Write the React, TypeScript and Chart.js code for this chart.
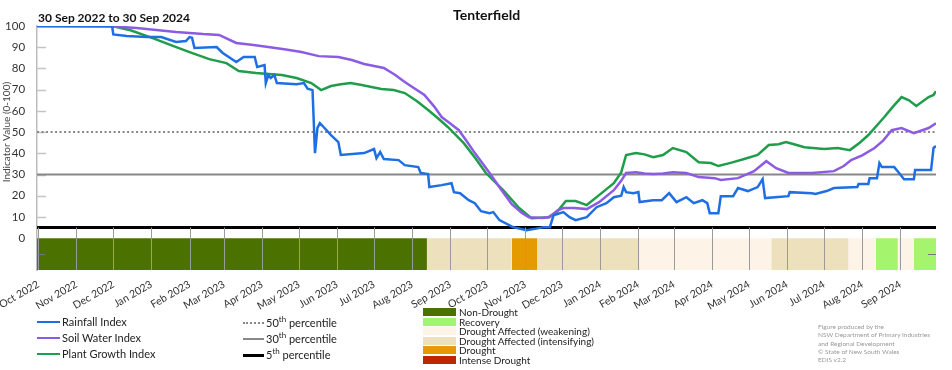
import React, { useEffect, useRef } from "react";
import { Chart, registerables } from "chart.js";

Chart.register(...registerables);

// ---------- DATA ----------
// x values are day offsets from 1 Oct 2022
const monthDays = [0, 31, 61, 92, 123, 151, 182, 212, 243, 273, 304, 335, 365, 396, 426, 457, 488, 517, 548, 578, 609, 639, 670, 701];
const monthLabels = [
  "Oct 2022", "Nov 2022", "Dec 2022", "Jan 2023", "Feb 2023", "Mar 2023", "Apr 2023", "May 2023",
  "Jun 2023", "Jul 2023", "Aug 2023", "Sep 2023", "Oct 2023", "Nov 2023", "Dec 2023", "Jan 2024",
  "Feb 2024", "Mar 2024", "Apr 2024", "May 2024", "Jun 2024", "Jul 2024", "Aug 2024", "Sep 2024",
];

const rainfallIndex: [number, number][] = [
  [-1, 100], [60, 100], [61, 96], [72, 95.3], [88, 94.8], [100, 94.8], [112, 92.5], [120, 92.9], [123, 94.8],
  [125, 94.5], [127, 89.6], [145, 90.1], [150, 87.3], [161, 83], [167, 85.4], [176, 85.4], [178, 80.7],
  [184, 81.6], [185, 73.1], [187, 76.9], [189, 75.5], [192, 76.9], [194, 73.1], [210, 72.6], [216, 73.1],
  [219, 70.5], [223, 69.8], [225, 40.1], [227, 52], [229, 54.2], [232, 52.4], [238, 48.6], [244, 45.3],
  [246, 39.2], [265, 40.1], [273, 42.0], [275, 37.7], [278, 40.6], [281, 37.3], [293, 36.8], [298, 34.4],
  [309, 33.5], [311, 30.7], [317, 30.2], [318, 24.1], [328, 25.0], [336, 25.9], [338, 21.7], [343, 21.2],
  [350, 17.9], [355, 16.5], [360, 12.7], [367, 11.8], [370, 12.3], [375, 8.5], [386, 5.2], [397, 3.8],
  [405, 4.5], [411, 5.2], [416, 5.2], [419, 10.8], [427, 12.3], [432, 9.9], [437, 8.5], [446, 9.9],
  [454, 14.6], [462, 16.5], [468, 19.3], [474, 20], [476, 24.1], [478, 21.7], [484, 21.2], [488, 21.7],
  [489, 17.0], [500, 17.9], [507, 17.9], [513, 21.2], [519, 17.0], [527, 19.3], [533, 16.5], [540, 17.9],
  [544, 16.5], [546, 11.8], [553, 11.8], [555, 19.8], [565, 19.8], [569, 23.6], [577, 22.2], [585, 24.1],
  [589, 27.8], [591, 18.9], [610, 19.8], [611, 21.7], [629, 21.2], [632, 20.8], [641, 22.2], [647, 23.6],
  [666, 24.1], [667, 25.5], [675, 25.5], [676, 28.3], [682, 28.3], [684, 35.4], [686, 33.5], [696, 33.5],
  [700, 30.7], [704, 27.8], [712, 27.8], [713, 32.1], [726, 32.1], [728, 42.5], [730, 43.4],
];

const soilWaterIndex: [number, number][] = [
  [-1, 100], [60, 99.8], [80, 99.1], [112, 97.2], [134, 96.2], [147, 95.8], [161, 92.0], [175, 91.0],
  [184, 90.3], [200, 89], [214, 87.7], [228, 85.8], [244, 85.4], [255, 84], [265, 82.1], [281, 80.2],
  [290, 77], [298, 73.6], [314, 67.5], [322, 62], [328, 57.1], [335, 54], [342, 50.9], [348, 46],
  [355, 40.1], [367, 30.7], [375, 24], [385, 16], [393, 12], [399, 9.9], [410, 9.5], [416, 10], [422, 13],
  [427, 14.2], [436, 14.2], [446, 13.7], [456, 17], [468, 22.6], [474, 27], [478, 30.7], [486, 31.1],
  [493, 30.5], [500, 30.2], [508, 30.5], [516, 31.1], [527, 30.7], [537, 28.8], [550, 28.3], [555, 27.4],
  [569, 28.3], [582, 31.6], [592, 36.3], [600, 33], [610, 30.7], [629, 30.7], [647, 31.6], [655, 34],
  [661, 36.8], [670, 39], [680, 42.5], [687, 46], [694, 50.9], [702, 51.9], [712, 49.5], [724, 51.9],
  [730, 54.2],
];

const plantGrowthIndex: [number, number][] = [
  [-1, 100], [60, 100], [75, 98], [93, 94.3], [110, 90.5], [123, 87.7], [139, 84.4], [153, 82.5],
  [163, 78.8], [177, 77.8], [190, 77.3], [198, 76.9], [210, 75.5], [222, 73.1], [230, 69.8], [238, 71.7],
  [246, 72.5], [254, 73.1], [263, 72.2], [279, 70.3], [289, 69.8], [298, 68.4], [308, 64.5], [317, 60.4],
  [325, 56.5], [333, 52.4], [346, 44.8], [355, 38], [364, 30.7], [378, 22.6], [391, 14.2], [401, 9.4],
  [415, 9.9], [422, 12.5], [429, 17.5], [437, 17.5], [446, 15.6], [456, 20.3], [468, 25.9], [474, 31],
  [478, 39.2], [486, 40.1], [493, 39.5], [500, 38.2], [508, 39.2], [516, 42.5], [527, 40.6], [537, 35.8],
  [547, 35.4], [553, 34.0], [563, 35.5], [574, 37.3], [585, 39.2], [594, 43.9], [602, 44.3], [608, 45.3],
  [616, 44], [623, 42.9], [639, 42.0], [650, 42.5], [660, 41.5], [668, 45], [675, 48.6], [688, 57.1],
  [695, 62], [702, 66.5], [708, 65], [714, 62.3], [724, 66.5], [728, 67.5], [730, 69.3],
];

const percentileValues = [50, 30, 5];
const percentileNames = ["50", "30", "5"];

const categoryNames = [
  "Non-Drought", "Recovery", "Drought Affected (weakening)",
  "Drought Affected (intensifying)", "Drought", "Intense Drought",
];
const categoryColors = ["#4b7100", "#a4f56d", "#fdf4e7", "#ede0bd", "#e49a00", "#bf2600"];

const bandStart = [-1, 316, 385, 406, 489, 596, 659, 681, 699, 712];
const bandEnd = [316, 385, 406, 489, 596, 659, 681, 699, 712, 730];
const bandCategory = [0, 3, 4, 3, 2, 3, 2, 1, 2, 1];

const seriesNames = ["Rainfall Index", "Soil Water Index", "Plant Growth Index"];
const seriesColors = ["#1f6fe3", "#8b5ce3", "#1f9d4a"];

const X_MIN = -1;
const X_MAX = 730;
const Y_MIN = -15;
const FONT = "Lato, 'Noto Sans', sans-serif";

const decorPlugin = {
  id: "decor",
  beforeDatasetsDraw(chart: any) {
    const { ctx, chartArea, scales } = chart;
    const y = scales.y;
    ctx.save();
    ctx.strokeStyle = "#c4c4c4";
    ctx.lineWidth = 1.5;
    for (let v = 10; v <= 90; v += 10) {
      const py = Math.round(y.getPixelForValue(v)) + 0.5;
      ctx.beginPath();
      ctx.moveTo(chartArea.left, py);
      ctx.lineTo(chartArea.left + 9, py);
      ctx.stroke();
    }
    ctx.restore();
  },
  afterDatasetsDraw(chart: any) {
    const { ctx, chartArea, scales } = chart;
    const x = scales.x;
    const y = scales.y;
    ctx.save();
    ctx.strokeStyle = "#9a9a9a";
    ctx.lineWidth = 1;
    const top = y.getPixelForValue(5);
    for (const d of monthDays) {
      const px = Math.round(x.getPixelForValue(d)) + 0.5;
      ctx.beginPath();
      ctx.moveTo(px, top);
      ctx.lineTo(px, chartArea.bottom);
      ctx.stroke();
    }
    const by = Math.round(y.getPixelForValue(-7.5)) + 0.5;
    ctx.strokeStyle = "#777";
    ctx.beginPath();
    ctx.moveTo(chartArea.left, by);
    ctx.lineTo(chartArea.left + 8, by);
    ctx.moveTo(chartArea.right - 8, by);
    ctx.lineTo(chartArea.right, by);
    ctx.stroke();
    ctx.restore();
  },
  afterDraw(chart: any) {
    const { ctx, chartArea, scales } = chart;
    const y = scales.y;
    ctx.save();
    ctx.fillStyle = "#111";
    ctx.textBaseline = "middle";
    ctx.font = `bold 14px ${FONT}`;
    ctx.textAlign = "center";
    ctx.fillText("Tenterfield", (chartArea.left + chartArea.right) / 2, 15);
    ctx.font = `bold 12px ${FONT}`;
    ctx.textAlign = "left";
    ctx.fillText("30 Sep 2022 to 30 Sep 2024", chartArea.left + 1, 18);
    const cy = (y.getPixelForValue(0) + y.getPixelForValue(100)) / 2;
    ctx.translate(7, cy);
    ctx.rotate(-Math.PI / 2);
    ctx.textAlign = "center";
    ctx.fillStyle = "#444";
    ctx.font = `10px ${FONT}`;
    ctx.fillText("Indicator Value (0-100)", 0, 0);
    ctx.restore();
  },
};

export default function App() {
  const ref = useRef<HTMLCanvasElement | null>(null);

  useEffect(() => {
    if (!ref.current) return;
    const datasets: any[] = [];
    seriesNames.forEach((name, i) => {
      const src = [rainfallIndex, soilWaterIndex, plantGrowthIndex][i];
      datasets.push({
        label: name,
        data: src.map(([d, v]) => ({ x: d, y: v })),
        borderColor: seriesColors[i],
        borderWidth: 2.5,
        pointRadius: 0,
        fill: false,
        tension: 0,
        order: 1 + i,
      });
    });
    percentileValues.forEach((v, i) => {
      datasets.push({
        label: percentileNames[i] + "th percentile",
        data: [{ x: X_MIN, y: v }, { x: X_MAX, y: v }],
        borderColor: i === 2 ? "#000" : "#888",
        borderWidth: i === 2 ? 3 : 2,
        borderDash: i === 0 ? [2, 2.5] : [],
        pointRadius: 0,
        fill: false,
        order: 6,
      });
    });
    bandStart.forEach((s, i) => {
      datasets.push({
        label: "band" + i,
        data: [{ x: s, y: 0 }, { x: bandEnd[i], y: 0 }],
        borderWidth: 0,
        borderColor: "rgba(0,0,0,0)",
        backgroundColor: categoryColors[bandCategory[i]],
        pointRadius: 0,
        fill: { value: Y_MIN },
        order: 10,
      });
    });

    const chart = new Chart(ref.current, {
      type: "line",
      data: { datasets },
      plugins: [decorPlugin],
      options: {
        responsive: false,
        animation: false,
        events: [],
        layout: { padding: { top: 26, right: 16, left: 0, bottom: 0 } },
        plugins: { legend: { display: false }, tooltip: { enabled: false }, title: { display: false } },
        scales: {
          x: {
            type: "linear",
            min: X_MIN,
            max: X_MAX,
            grid: { display: false },
            border: { display: false },
            afterBuildTicks: (scale: any) => {
              scale.ticks = monthDays.map((d) => ({ value: d }));
            },
            afterFit: (scale: any) => {
              scale.height = 100;
            },
            ticks: {
              autoSkip: false,
              maxRotation: 30,
              minRotation: 30,
              padding: 0,
              color: "#333",
              font: { family: FONT, size: 10.5 },
              callback: (v: any) => {
                const idx = monthDays.indexOf(Number(v));
                return idx >= 0 ? monthLabels[idx] : "";
              },
            },
          },
          y: {
            type: "linear",
            min: Y_MIN,
            max: 100,
            grid: { display: false },
            border: { display: true, color: "#bdbdbd", width: 1.5 },
            afterBuildTicks: (scale: any) => {
              const t = [];
              for (let v = 0; v <= 100; v += 10) t.push({ value: v });
              scale.ticks = t;
            },
            afterFit: (scale: any) => {
              scale.width = 37;
            },
            ticks: {
              padding: 4,
              color: "#333",
              font: { family: FONT, size: 11.5 },
            },
          },
        },
      },
    });
    return () => chart.destroy();
  }, []);

  const legendText: React.CSSProperties = {
    position: "absolute",
    fontFamily: FONT,
    fontSize: 11,
    color: "#222",
    whiteSpace: "nowrap",
    lineHeight: "12px",
  };

  return (
    <div style={{ position: "absolute", left: 0, top: 0, width: 952, height: 370, background: "#fff", overflow: "hidden" }}>
      <canvas ref={ref} width={952} height={370} style={{ display: "block" }} />
      {seriesNames.map((n, i) => (
        <React.Fragment key={n}>
          <div style={{ position: "absolute", left: 37, top: 321 + i * 16, width: 23, height: 0, borderTop: `2.5px solid ${seriesColors[i]}` }} />
          <div style={{ ...legendText, left: 62, top: 316 + i * 16 }}>{n}</div>
        </React.Fragment>
      ))}
      {percentileNames.map((n, i) => (
        <React.Fragment key={n}>
          <div
            style={{
              position: "absolute",
              left: 243,
              top: 322 + i * 16,
              width: 21,
              height: 0,
              borderTop: i === 0 ? "2px dotted #888" : `${i === 2 ? 3 : 2}px solid ${i === 2 ? "#000" : "#888"}`,
            }}
          />
          <div style={{ ...legendText, left: 266, top: 317 + i * 16 }}>
            {n}
            <sup style={{ fontSize: 8, lineHeight: 0 }}>th</sup> percentile
          </div>
        </React.Fragment>
      ))}
      {categoryNames.map((n, i) => (
        <React.Fragment key={n}>
          <div style={{ position: "absolute", left: 423, top: 308 + i * 9.6, width: 33, height: 8, background: categoryColors[i] }} />
          <div style={{ ...legendText, fontSize: 10, lineHeight: "10px", left: 459, top: 307 + i * 9.6 }}>{n}</div>
        </React.Fragment>
      ))}
      {[
        "Figure produced by the",
        "NSW Department of Primary Industries",
        "and Regional Development",
        "\u00A9 State of New South Wales",
        "EDIS v2.2",
      ].map((t, i) => (
        <div key={t} style={{ ...legendText, fontSize: 6.5, lineHeight: "7px", color: "#999", left: 818, top: 323 + i * 8.3 }}>
          {t}
        </div>
      ))}
    </div>
  );
}
